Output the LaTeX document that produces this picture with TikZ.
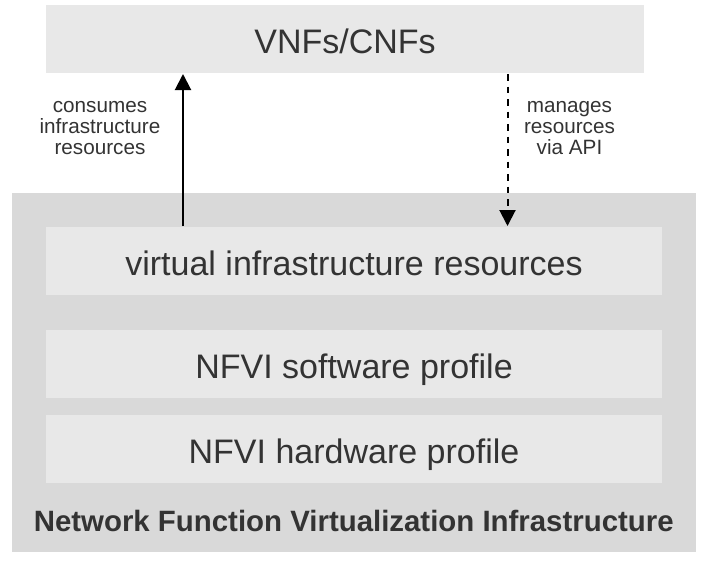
\documentclass[tikz,border=0pt]{standalone}
\usepackage{fontspec}
\setmainfont{Liberation Sans}
\usepackage{tikz}
\usetikzlibrary{arrows.meta}
\definecolor{layerfill}{HTML}{E8E8E8}
\definecolor{nfvifill}{HTML}{D9D9D9}
\definecolor{labelgray}{HTML}{333333}

\begin{document}
\begin{tikzpicture}[x=1pt, y=-1pt, line width=2pt,
    layer/.style={rectangle, fill=layerfill, inner sep=0pt, minimum height=68pt,
      text height=29pt, text depth=0pt, text=labelgray,
      font=\fontsize{34}{40}\selectfont},
    note/.style={align=center, inner sep=0pt, text=labelgray,
      font=\fontsize{20.7}{20.7}\selectfont},
    tip/.style={-{Triangle[width=16pt, length=16pt]}}]
  % Positions are pixels of the 703x562 frame, y running downwards.
  % \lyX is the centre of the three NFVI layers, \lyW their width.
  \def\lyX{354} \def\lyW{616}
  \useasboundingbox (0,0) rectangle (703,562);

  % the NFVI block, with its bold title at the foot
  \node[rectangle, fill=nfvifill, inner sep=0pt, minimum width=683.5pt,
        minimum height=359pt] (nfvi) at (353.75,372.5) {};
  \node[anchor=base, inner sep=0pt, text=labelgray,
        font=\fontsize{29.4}{34}\selectfont\bfseries]
    (nfvititle) at (353.75,531.7) {Network Function Virtualization Infrastructure};

  % the layers
  \node[layer, minimum width=\lyW pt] (vir) at (\lyX,261) {virtual infrastructure resources};
  \node[layer, minimum width=\lyW pt] (swp) at (\lyX,363.5) {NFVI software profile};
  \node[layer, minimum width=\lyW pt] (hwp) at (\lyX,449) {NFVI hardware profile};

  % the workloads on top
  \node[layer, minimum width=598pt] (vnf) at (345,39) {VNFs/CNFs};

  % the two relations between them
  \coordinate (usex) at (183,0);
  \coordinate (mgmx) at (507.5,0);
  \draw[tip] (vir.north -| usex) -- (vnf.south -| usex);
  \draw[tip, dash pattern=on 6.5pt off 6pt] (vnf.south -| mgmx) -- (vir.north -| mgmx);

  \node[note] (usenote) at (100,128) {consumes\\infrastructure\\resources};
  \node[note] (mgmnote) at (569.5,128) {manages\\resources\\via API};
\end{tikzpicture}
\end{document}
